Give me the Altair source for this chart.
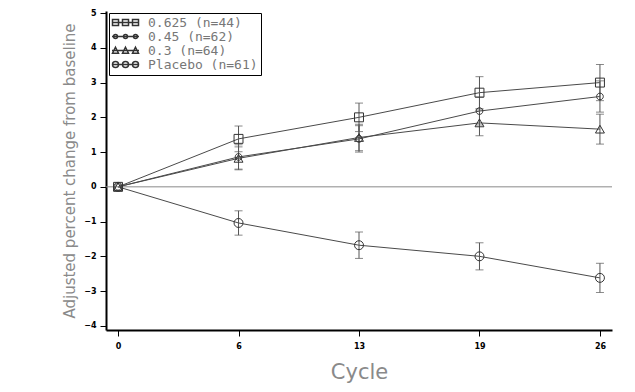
import altair as alt
import pandas as pd

cycles = ["0", "6", "13", "19", "26"]
series = ["0.625 (n=44)", "0.45 (n=62)", "0.3 (n=64)", "Placebo (n=61)"]
means = {
    "0.625 (n=44)": [0.0, 1.38, 2.0, 2.71, 3.0],
    "0.45 (n=62)": [0.0, 0.86, 1.38, 2.18, 2.6],
    "0.3 (n=64)": [0.0, 0.82, 1.42, 1.84, 1.66],
    "Placebo (n=61)": [0.0, -1.04, -1.68, -2.0, -2.62],
}
errs = {
    "0.625 (n=44)": [0.0, 0.37, 0.41, 0.46, 0.52],
    "0.45 (n=62)": [0.0, 0.35, 0.38, 0.40, 0.45],
    "0.3 (n=64)": [0.0, 0.33, 0.38, 0.37, 0.43],
    "Placebo (n=61)": [0.0, 0.35, 0.38, 0.39, 0.42],
}
yticks = [-4, -3, -2, -1, 0, 1, 2, 3, 4, 5]

# marker shapes (unit-space symbol paths)
small_circle = "M-0.75,0A0.75,0.75 0 1,0 0.75,0A0.75,0.75 0 1,0 -0.75,0Z"
shapes = ["square", small_circle, "triangle-up", "circle"]


def triple(one, offs=(-2.0, 0.0, 2.0)):
    return " ".join(one(o) for o in offs) + " M-2.7,0H2.7"


leg_shapes = [
    triple(lambda o: f"M{o-0.6:.2f},-0.6h1.2v1.2h-1.2Z"),
    triple(lambda o: f"M{o-0.4:.2f},0a0.4,0.4 0 1,0 0.8,0a0.4,0.4 0 1,0 -0.8,0Z"),
    triple(lambda o: f"M{o:.2f},-0.65L{o+0.6:.2f},0.55L{o-0.6:.2f},0.55Z"),
    triple(lambda o: f"M{o-0.6:.2f},0a0.6,0.6 0 1,0 1.2,0a0.6,0.6 0 1,0 -1.2,0Z"),
]

rows = []
for s in series:
    for c, m, e in zip(cycles, means[s], errs[s]):
        rows.append({"cycle": c, "series": s, "y": m, "lo": m - e, "hi": m + e})
df = pd.DataFrame(rows)

xenc = alt.X("cycle:O", sort=cycles, title="Cycle",
             scale=alt.Scale(type="point", padding=0.1),
             axis=alt.Axis(labelAngle=0))
yscale = alt.Scale(domain=[-4.12, 5.06], nice=False, zero=False)
yaxis = alt.Axis(values=yticks, title="Adjusted percent change from baseline", labelOverlap=False)

base = alt.Chart(df)

lines = base.mark_line(color="#4a4a4a", strokeWidth=1).encode(
    x=xenc,
    y=alt.Y("y:Q", scale=yscale, axis=yaxis),
    detail="series:N",
)

zero = alt.Chart(pd.DataFrame({"z": [0]})).mark_rule(color="#8a8a8a", strokeWidth=1).encode(
    y=alt.Y("z:Q", scale=yscale, axis=yaxis)
)

errbase = base.transform_filter("datum.hi != datum.lo")
err = errbase.mark_rule(color="#555555", strokeWidth=1).encode(
    x=xenc, y=alt.Y("lo:Q", scale=yscale, axis=yaxis), y2="hi:Q"
)
caps_hi = errbase.mark_tick(color="#555555", thickness=1, size=8).encode(
    x=xenc, y=alt.Y("hi:Q", scale=yscale, axis=yaxis)
)
caps_lo = errbase.mark_tick(color="#555555", thickness=1, size=8).encode(
    x=xenc, y=alt.Y("lo:Q", scale=yscale, axis=yaxis)
)

pts = base.mark_point(filled=False, color="#333333", strokeWidth=1, opacity=1, size=80).encode(
    x=xenc,
    y=alt.Y("y:Q", scale=yscale, axis=yaxis),
    shape=alt.Shape("series:N", sort=series, scale=alt.Scale(domain=series, range=shapes), legend=None),
)

legend_layer = base.mark_point(filled=False, color="#333333", strokeWidth=1, opacity=1,
                               size=100, clip=True).encode(
    x=alt.value(-500),
    y=alt.value(-500),
    shape=alt.Shape("series:N", sort=series,
                    scale=alt.Scale(domain=series, range=leg_shapes),
                    legend=alt.Legend(title=None, orient="none", legendX=3, legendY=2,
                                      symbolOffset=7, labelOffset=16)),
)

chart = alt.layer(lines, zero, err, caps_hi, caps_lo, pts, legend_layer).resolve_scale(
    shape="independent"
).properties(
    width=506, height=319,
    padding={"left": 98, "top": 3, "right": 15, "bottom": 55},
    autosize=alt.AutoSizeParams(type="none"),
).configure_view(stroke=None).configure_axis(
    domainColor="black", domainWidth=2, tickColor="black", tickSize=6,
    labelFont="DejaVu Sans", labelFontWeight="bold", labelFontSize=8, labelColor="black",
    titleFont="DejaVu Sans", titleFontWeight="normal", titleColor="#8a8a8a", grid=False,
).configure_axisY(titleFontSize=15, titlePadding=6, labelPadding=4
).configure_axisX(titleFontSize=21, titlePadding=11, labelPadding=6
).configure_legend(
    strokeColor="black", strokeWidth=1, fillColor="white", padding=3, cornerRadius=0,
    labelFont="DejaVu Sans Mono", labelFontSize=13, labelColor="#777777",
    symbolStrokeColor="#333333", symbolSize=100, rowPadding=0,
)

chart.save("out.html", embed_options={"renderer": "svg", "actions": False})
